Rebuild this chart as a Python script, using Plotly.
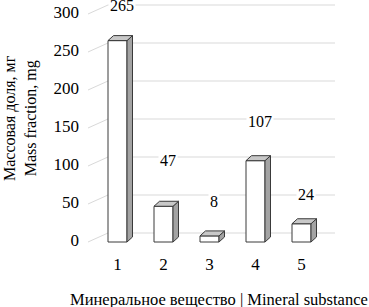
import plotly.graph_objects as go

# ---------------- data ----------------
categories = ["1", "2", "3", "4", "5"]
values = [265, 47, 8, 107, 24]
y_ticks = [0, 50, 100, 150, 200, 250, 300]
x_title = "Минеральное вещество | Mineral substance"
y_title = "Массовая доля, мг<br>Mass fraction, mg"

# ---------------- style / geometry ----------------
FONT = "Liberation Serif, Times New Roman, serif"
W, H = 369, 307
ML, MR, MT, MB = 80, 19, 0, 57
PX_X = 46.0          # pixels per category step
PX_Y = 0.76          # pixels per value unit
X1_PX = 117.5        # pixel centre of first category
ZERO_PX = 242        # pixel row of value 0 (bar front bottom)
plot_w = W - ML - MR
plot_h = H - MT - MB


def px_x(p):
    return 1 + (p - X1_PX) / PX_X


bar_w = 19 / PX_X
depth_dx = 5.5 / PX_X
depth_dy = 5 / PX_Y
wall_dy = 9 / PX_Y
grid_front_x = px_x(88)
grid_back_x = px_x(108)
grid_end_x = px_x(335)
label_dx = 4 / PX_X
label_offsets = [46, 60, 45, 52, 38]   # label height above bar (value units)

grid_color = "#d9d9d9"
edge_color = "#3a3a3a"
side_color = "#a3a3a3"
top_color = "#c8c8c8"

xs = list(range(1, len(categories) + 1))

fig = go.Figure()

# front faces
fig.add_trace(go.Bar(
    x=xs, y=values, width=bar_w,
    marker=dict(color="white", line=dict(color=edge_color, width=1)),
    hoverinfo="skip",
))

# side and top faces
for x, v in zip(xs, values):
    xl = x - bar_w / 2
    xr = x + bar_w / 2
    fig.add_trace(go.Scatter(
        x=[xr, xr + depth_dx, xr + depth_dx, xr, xr],
        y=[0, depth_dy, v + depth_dy, v, 0],
        mode="lines", fill="toself", fillcolor=side_color,
        line=dict(color=edge_color, width=1), hoverinfo="skip",
    ))
    fig.add_trace(go.Scatter(
        x=[xl, xl + depth_dx, xr + depth_dx, xr, xl],
        y=[v, v + depth_dy, v + depth_dy, v, v],
        mode="lines", fill="toself", fillcolor=top_color,
        line=dict(color=edge_color, width=1), hoverinfo="skip",
    ))

# gridlines (back wall + perspective segments)
shapes = []
for t in y_ticks:
    shapes.append(dict(type="line", xref="x", yref="y", layer="below",
                       x0=grid_front_x, y0=t, x1=grid_back_x, y1=t + wall_dy,
                       line=dict(color=grid_color, width=1)))
    shapes.append(dict(type="line", xref="x", yref="y", layer="below",
                       x0=grid_back_x, y0=t + wall_dy, x1=grid_end_x, y1=t + wall_dy,
                       line=dict(color=grid_color, width=1)))

annotations = []
for x, v, off in zip(xs, values, label_offsets):
    annotations.append(dict(
        x=x + label_dx, y=v + off, xref="x", yref="y", text=str(v),
        showarrow=False, bgcolor="white", borderpad=1,
        font=dict(family=FONT, size=16, color="black"),
    ))

annotations.append(dict(
    x=(219 - ML) / plot_w, y=(plot_h - (299 - MT)) / plot_h,
    xref="paper", yref="paper", text=x_title, showarrow=False,
    xanchor="center", yanchor="middle",
    font=dict(family=FONT, size=16.5, color="black"),
))
annotations.append(dict(
    x=(20 - ML) / plot_w, y=(plot_h - (118 - MT)) / plot_h,
    xref="paper", yref="paper", text=y_title, showarrow=False,
    textangle=-90, xanchor="center", yanchor="middle",
    font=dict(family=FONT, size=16, color="black"),
))

fig.update_layout(
    width=W, height=H,
    margin=dict(l=ML, r=MR, t=MT, b=MB),
    plot_bgcolor="white", paper_bgcolor="white",
    showlegend=False,
    shapes=shapes, annotations=annotations,
    xaxis=dict(
        range=[px_x(ML), px_x(W - MR)],
        tickvals=xs, ticktext=categories,
        showgrid=False, zeroline=False, showline=False, ticks="",
        tickfont=dict(family=FONT, size=17, color="black"),
        ticklabelstandoff=2,
    ),
    yaxis=dict(
        range=[-(plot_h - ZERO_PX) / PX_Y, ZERO_PX / PX_Y],
        tickvals=y_ticks,
        showgrid=False, zeroline=False, showline=False, ticks="",
        tickfont=dict(family=FONT, size=17, color="black"),
        ticklabelshift=-2,
    ),
)

fig.write_html(
    "out.html",
    config={"displayModeBar": False},
    post_script="document.body.style.margin='0px';document.body.style.overflow='hidden';",
)
